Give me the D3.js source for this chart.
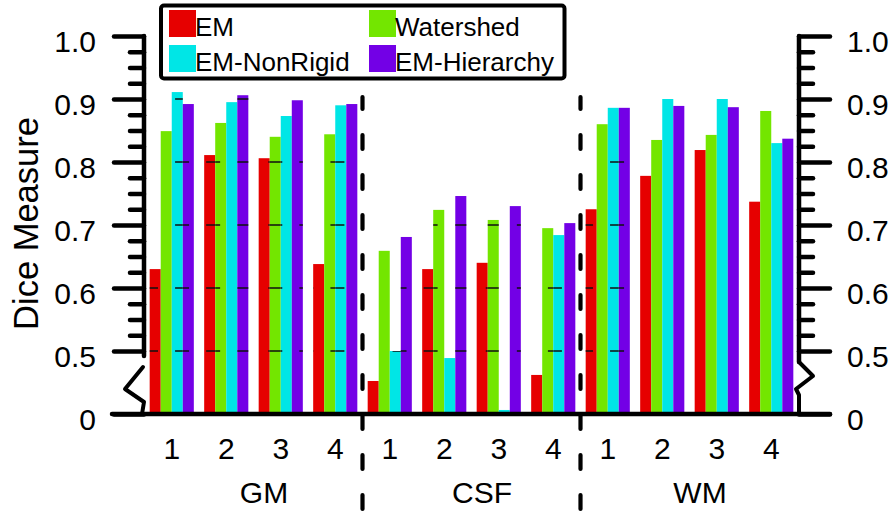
<!DOCTYPE html>
<html>
<head>
<meta charset="utf-8">
<script src="https://cdn.jsdelivr.net/npm/d3@7"></script>
<style>
  html, body { margin: 0; padding: 0; background: #fff; }
  svg { display: block; font-family: "Liberation Sans", Arial, sans-serif; }
</style>
</head>
<body>
<svg id="chart" width="894" height="512"></svg>
<script>
// Tissue classes, subjects and segmentation methods
const tissues = ["GM", "CSF", "WM"];
const subjects = ["1", "2", "3", "4"];
const methods = ["EM", "Watershed", "EM-NonRigid", "EM-Hierarchy"];

// Dice scores, ordered GM 1-4, CSF 1-4, WM 1-4
const emValues        = [0.630, 0.811, 0.806, 0.638, 0.262, 0.630, 0.640, 0.310, 0.725, 0.778, 0.819, 0.737];
const watershedValues = [0.849, 0.862, 0.840, 0.844, 0.659, 0.724, 0.708, 0.695, 0.860, 0.835, 0.843, 0.881];
const nonRigidValues  = [0.911, 0.895, 0.873, 0.890, 0.500, 0.444, 0.032, 0.684, 0.886, 0.900, 0.900, 0.830];
const hierarchyValues = [0.892, 0.906, 0.898, 0.892, 0.681, 0.746, 0.730, 0.703, 0.886, 0.889, 0.887, 0.837];

// Axis ticks (the 0-0.5 stretch is compressed behind a break)
const yTickValues = [0, 0.5, 0.6, 0.7, 0.8, 0.9, 1.0];
const yTickLabels = ["0", "0.5", "0.6", "0.7", "0.8", "0.9", "1.0"];

const colors = ["#e60000", "#73e600", "#00e6e6", "#7300e6"];
const series = [emValues, watershedValues, nonRigidValues, hierarchyValues];

const svg = d3.select("#chart");
const cells = tissues.flatMap(t => subjects.map(s => t + "-" + s));

const x = d3.scaleBand().domain(cells).range([144.5, 798.5])
  .paddingInner(0.19).paddingOuter(0.095);
const xm = d3.scaleBand().domain(methods).range([0, x.bandwidth()]);
const y = d3.scaleLinear().domain([0, 0.5, 1.0]).range([414, 351, 36]);

const leftX = 144, rightX = 799;

const bars = cells.flatMap((c, i) => methods.map((m, j) => ({
  cell: c, method: m, value: series[j][i], color: colors[j]
})));

// Bars
svg.append("g").selectAll("rect").data(bars).join("rect")
  .attr("x", d => x(d.cell) + xm(d.method))
  .attr("width", xm.bandwidth())
  .attr("y", d => y(d.value))
  .attr("height", d => y(0) - y(d.value))
  .attr("fill", d => d.color);

// Dashed grid lines only show through the bars
svg.append("clipPath").attr("id", "barClip")
  .selectAll("rect").data(bars).join("rect")
  .attr("x", d => x(d.cell) + xm(d.method))
  .attr("width", xm.bandwidth())
  .attr("y", d => y(d.value))
  .attr("height", d => y(0) - y(d.value));

svg.append("g").attr("clip-path", "url(#barClip)")
  .selectAll("line").data(yTickValues.filter(v => v >= 0.5 && v < 1)).join("line")
  .attr("x1", leftX).attr("x2", 630)
  .attr("y1", d => y(d)).attr("y2", d => y(d))
  .attr("stroke", "#111").attr("stroke-width", 1.3)
  .attr("stroke-dasharray", "14 17.07");

// Dashed separators between tissue groups
const sepXs = [4, 8].map(i => x(cells[i]) - x.step() * x.paddingInner() / 2);
svg.append("g").selectAll("line").data(sepXs).join("line")
  .attr("x1", d => d).attr("x2", d => d)
  .attr("y1", 97).attr("y2", 512)
  .attr("stroke", "#000").attr("stroke-width", 4.2)
  .attr("stroke-linecap", "round")
  .attr("stroke-dasharray", "14 26").attr("stroke-dashoffset", 2);

// Y axes
const minorValues = d3.range(20).filter(i => i % 4 !== 0).map(i => 0.5 + i * 0.025);

function styleAxis(g) {
  g.select(".domain").remove();
  g.selectAll(".tick line").attr("stroke", "#000").attr("stroke-width", 4.5)
    .attr("stroke-linecap", "round");
  g.selectAll(".tick text").attr("fill", "#000").attr("font-size", 30)
    .attr("dy", "0.53em").style("font-family", "'Liberation Sans', Arial, sans-serif");
}

const leftAxis = svg.append("g").attr("transform", `translate(${leftX},0)`);
leftAxis.append("g")
  .call(d3.axisLeft(y).tickValues(yTickValues).tickFormat((d, i) => yTickLabels[i])
    .tickSize(30).tickPadding(18))
  .call(styleAxis);
leftAxis.append("g")
  .call(d3.axisLeft(y).tickValues(minorValues).tickFormat("").tickSize(14))
  .call(styleAxis);

const rightAxis = svg.append("g").attr("transform", `translate(${rightX},0)`);
rightAxis.append("g")
  .call(d3.axisRight(y).tickValues(yTickValues).tickFormat((d, i) => yTickLabels[i])
    .tickSize(31).tickPadding(17))
  .call(styleAxis);
rightAxis.append("g")
  .call(d3.axisRight(y).tickValues(minorValues).tickFormat("").tickSize(14))
  .call(styleAxis);

// Axis spines with break marks
const y05 = y(0.5), y0 = y(0);
const spine = svg.append("g").attr("fill", "none").attr("stroke", "#000")
  .attr("stroke-width", 4.5).attr("stroke-linejoin", "round").attr("stroke-linecap", "round");
spine.append("line").attr("x1", leftX).attr("x2", leftX).attr("y1", y(1)).attr("y2", y05 + 5);
spine.append("path").attr("stroke-width", 4)
  .attr("d", `M${leftX - 1},${y05 + 16} L${leftX - 19},${y05 + 38} L${leftX},${y05 + 51} L${leftX - 2},${y0}`);
spine.append("line").attr("x1", rightX).attr("x2", rightX).attr("y1", y(1)).attr("y2", y05 + 11);
spine.append("path").attr("stroke-width", 4)
  .attr("d", `M${rightX},${y05 + 11} L${rightX + 14},${y05 + 25} L${rightX - 3},${y05 + 38} L${rightX},${y05 + 44} L${rightX},${y0}`);

// X axis baseline
svg.append("line").attr("x1", 112).attr("x2", 830).attr("y1", y0).attr("y2", y0)
  .attr("stroke", "#000").attr("stroke-width", 4.5).attr("stroke-linecap", "round");

// Subject labels
const xAxis = svg.append("g").attr("transform", `translate(0,${y0})`)
  .call(d3.axisBottom(x).tickFormat(d => d.split("-")[1]).tickSize(0).tickPadding(24));
xAxis.select(".domain").remove();
xAxis.selectAll(".tick text").attr("fill", "#000").attr("font-size", 30)
  .style("font-family", "'Liberation Sans', Arial, sans-serif");

// Tissue labels
svg.append("g").selectAll("text").data(tissues).join("text")
  .attr("x", t => {
    const first = x(t + "-" + subjects[0]);
    const last = x(t + "-" + subjects[subjects.length - 1]) + x.bandwidth();
    return (first + last) / 2 + 10.5;
  })
  .attr("y", 503)
  .attr("text-anchor", "middle").attr("font-size", 30).attr("fill", "#000")
  .text(t => t);

// Y axis title
svg.append("text")
  .attr("transform", "translate(37.5,223.5) rotate(-90)")
  .attr("text-anchor", "middle").attr("font-size", 34.5).attr("fill", "#000")
  .text("Dice Measure");

// Legend
const legend = svg.append("g");
legend.append("rect").attr("x", 161).attr("y", 5.5).attr("width", 403.5).attr("height", 73)
  .attr("rx", 3).attr("fill", "#fff").attr("stroke", "#000").attr("stroke-width", 4);
const items = legend.selectAll("g.item").data(methods).join("g").attr("class", "item")
  .attr("transform", (d, i) => `translate(${169 + (i % 2) * 200},${10 + Math.floor(i / 2) * 35})`);
items.append("rect").attr("width", 27).attr("height", 27).attr("fill", (d, i) => colors[i]);
items.append("text").attr("x", 26).attr("y", 26).attr("font-size", 26).attr("fill", "#000")
  .text(d => d);
</script>
</body>
</html>
